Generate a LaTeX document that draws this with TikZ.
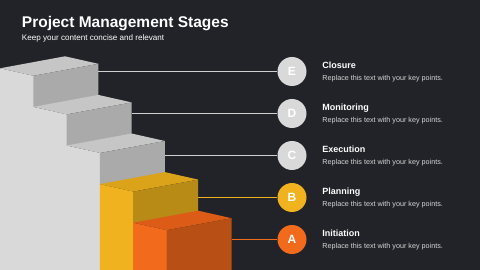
\documentclass[tikz,border=0pt]{standalone}
\usepackage{fontspec}
\setmainfont{Liberation Sans}
\definecolor{bg}{HTML}{222328}
\definecolor{gside}{HTML}{D9D9D9}
\definecolor{gtop}{HTML}{C6C6C6}
\definecolor{gfront}{HTML}{AAAAAA}
\definecolor{yside}{HTML}{F0B21E}
\definecolor{ytop}{HTML}{DBA31A}
\definecolor{yfront}{HTML}{B88A16}
\definecolor{oside}{HTML}{F26B1D}
\definecolor{otop}{HTML}{DB5B17}
\definecolor{ofront}{HTML}{B84F14}
\definecolor{gline}{HTML}{CFCFCF}
\definecolor{dtext}{HTML}{D6D6D8}
\begin{document}
\begin{tikzpicture}[x=1pt,y=-1pt,line width=.9pt,
  badge/.style={circle,minimum size=29pt,inner sep=0pt,text=white,font=\fontsize{12}{12}\selectfont\bfseries},
  head/.style={anchor=base west,inner sep=0pt,text=white,font=\fontsize{9}{9}\selectfont\bfseries},
  desc/.style={anchor=base west,inner sep=0pt,text=dtext,font=\fontsize{7.2}{7.2}\selectfont}]
\fill[bg] (0,0) rectangle (480,270);
\clip (0,0) rectangle (480,270);
\node[anchor=base west,inner sep=0pt,text=white,font=\fontsize{15.5}{15.5}\selectfont\bfseries] (title) at (21.5,27.3) {Project Management Stages};
\node[anchor=base west,inner sep=0pt,text=white,font=\fontsize{8.1}{8.1}\selectfont] (subtitle) at (21.5,40.3) {Keep your content concise and relevant};
% stairs, top step first (faces overlap a little, so no seams)
\foreach \i/\S/\T/\F/\H in {0/gside/gtop/gfront/31.8,1/gside/gtop/gfront/31.8,2/gside/gtop/gfront/31.8,3/yside/ytop/yfront/31.8,4/oside/otop/ofront/300}{
\coordinate (p) at ({33.3*\i},{68.3+38.6*\i});
\fill[\S] (p) -- ++(34,7.6) -- ++(0,300) -- ++(-34,0) -- cycle;
\fill[\T] (p) -- ++(65,-12) -- ++(33.3,7.5) -- ++(-65,12) -- cycle;
\fill[\F] (p) ++(33.3,7.5) -- ++(65,-12) -- ++(0,\H) -- ++(-65,12) -- cycle;}
% badges and texts
\foreach \i/\L/\C/\K/\N in {0/E/gside/gline/Closure,1/D/gside/gline/Monitoring,2/C/gside/gline/Execution,3/B/yside/yside/Planning,4/A/oside/oside/Initiation}{
\node[badge,fill=\C] (c\L) at (292,{71.5+42*\i}) {\L};
\coordinate (e\L) at ({98.3+33.3*\i},{71.5+42*\i});
\draw[\K] (e\L) -- (c\L);
\node[head] (h\L) at (322,{68.5+42*\i}) {\N};
\node[desc] (d\L) at (322,{80.3+42*\i}) {Replace this text with your key points.};}
\end{tikzpicture}
\end{document}
